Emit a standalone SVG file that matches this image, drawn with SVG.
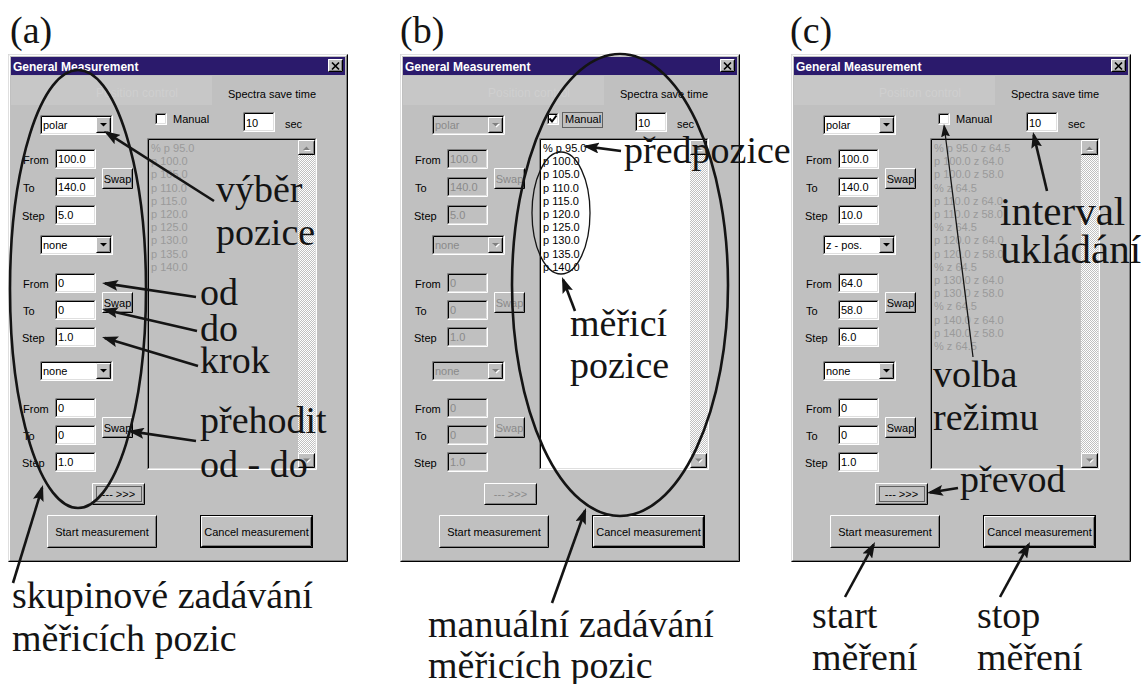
<svg xmlns="http://www.w3.org/2000/svg" width="1145" height="684" viewBox="0 0 1145 684">
<style>
.ui{font-family:"Liberation Sans",Arial,sans-serif;font-size:11px;fill:#000}
.ttl{font-family:"Liberation Sans",Arial,sans-serif;font-size:12px;font-weight:bold;fill:#fff}
.fnt{font-family:"Liberation Sans",Arial,sans-serif;font-size:12px;fill:#cfcfcf}
.mid{text-anchor:middle}
.gry{fill:#9a9a9a}
.dis{fill:#8a8a8a}
.ann{font-family:"Liberation Serif","Times New Roman",serif;font-size:38px;fill:#141414}
.arr{stroke:#141414;stroke-width:2.6;fill:none;marker-end:url(#ah)}
.thin{stroke:#141414;stroke-width:1.3;fill:none;marker-end:url(#ah2)}
.ell{stroke:#141414;stroke-width:2.6;fill:none}
.ell2{stroke:#141414;stroke-width:1.3;fill:none}
.hl{stroke:#fff;fill:none}
.lt{stroke:#dfdfdf;fill:none}
.sh{stroke:#808080;fill:none}
.dk{stroke:#000;fill:none}
.face{fill:#c0c0c0}
.focus{fill:none;stroke:#000;stroke-dasharray:1 1}
</style>
<defs>
<pattern id="dith" width="2" height="2" patternUnits="userSpaceOnUse"><rect width="2" height="2" fill="#c0c0c0"/><rect width="1" height="1" fill="#fff"/><rect x="1" y="1" width="1" height="1" fill="#fff"/></pattern>
<marker id="ah" viewBox="0 0 16 11" markerWidth="16" markerHeight="11" refX="13" refY="5.5" orient="auto" markerUnits="userSpaceOnUse"><path d="M0 0L16 5.5L0 11L3 5.5Z" fill="#141414"/></marker>
<marker id="ah2" viewBox="0 0 13 9" markerWidth="13" markerHeight="9" refX="11" refY="4.5" orient="auto" markerUnits="userSpaceOnUse"><path d="M0 0L13 4.5L0 9L2 4.5Z" fill="#141414"/></marker>
<g id="tbf"><path class="sh" d="M0.5 19.5V0.5H40.5"/><path class="dk" d="M1.5 18.5V1.5H39.5"/><path class="hl" d="M0.5 19.5H40.5V0.5"/><path class="lt" d="M1.5 18.5H39.5V1.5"/></g>
<g id="tb"><rect width="41" height="20" fill="#fff"/><use href="#tbf"/></g>
<g id="tbd"><rect width="41" height="20" fill="#c0c0c0"/><use href="#tbf"/></g>
<g id="b15x16"><rect width="15" height="16" class="face"/><path class="hl" d="M0.5 15.5V0.5H14.5"/><path class="dk" d="M0.5 15.5H14.5V0.5"/><path class="sh" d="M1.5 14.5H13.5V1.5"/></g>
<g id="ddf"><path class="sh" d="M0.5 19.5V0.5H72.5"/><path class="dk" d="M1.5 18.5V1.5H71.5"/><path class="hl" d="M0.5 19.5H72.5V0.5"/><path class="lt" d="M1.5 18.5H71.5V1.5"/></g>
<g id="dd"><rect width="73" height="20" fill="#fff"/><use href="#ddf"/><use href="#b15x16" x="56" y="2"/><path d="M60 8H67L63.5 11.5Z" fill="#000"/></g>
<g id="ddd"><rect width="73" height="20" fill="#c0c0c0"/><use href="#ddf"/><use href="#b15x16" x="56" y="2"/><path d="M61 9H68L64.5 12.5Z" fill="#fff"/><path d="M60 8H67L63.5 11.5Z" fill="#808080"/></g>
<g id="sw"><rect width="31" height="21" class="face"/><path class="hl" d="M0.5 20.5V0.5H30.5"/><path class="dk" d="M0.5 20.5H30.5V0.5"/><path class="sh" d="M1.5 19.5H29.5V1.5"/></g>
<g id="b53"><rect width="53" height="22" class="face"/><path class="hl" d="M0.5 21.5V0.5H52.5"/><path class="dk" d="M0.5 21.5H52.5V0.5"/><path class="sh" d="M1.5 20.5H51.5V1.5"/></g>
<g id="b15x13"><rect width="15" height="13" class="face"/><path class="hl" d="M0.5 12.5V0.5H14.5"/><path class="dk" d="M0.5 12.5H14.5V0.5"/><path class="sh" d="M1.5 11.5H13.5V1.5"/></g>
<g id="b17x15"><rect width="17" height="15" class="face"/><path class="hl" d="M0.5 14.5V0.5H16.5"/><path class="dk" d="M0.5 14.5H16.5V0.5"/><path class="sh" d="M1.5 13.5H15.5V1.5"/></g>
<g id="dlg">
<rect x="0" y="54" width="340" height="508" class="face"/>
<path class="lt" d="M0.5 561.5V54.5H339.5"/><path class="hl" d="M1.5 560.5V55.5H338.5"/>
<path class="dk" d="M0.5 561.5H339.5V54.5"/><path class="sh" d="M1.5 560.5H338.5V55.5"/>
<rect x="3" y="57" width="334" height="18" fill="#2b1a6c"/>
<use href="#b15x13" x="320" y="59"/>
<path d="M324 62.5L331 69.5M331 62.5L324 69.5" stroke="#000" stroke-width="1.7"/>
<rect x="3" y="76" width="201" height="29" fill="#c7c7c7"/>
<rect x="147" y="113" width="12" height="12" fill="#fff"/>
<path class="sh" d="M147.5 124.5V113.5H158.5"/><path class="dk" d="M148.5 123.5V114.5H157.5"/><path class="hl" d="M147.5 124.5H158.5V113.5"/><path class="lt" d="M148.5 123.5H157.5V114.5"/>
<rect x="235" y="112" width="32" height="20" fill="#fff"/>
<path class="sh" d="M235.5 131.5V112.5H266.5"/><path class="dk" d="M236.5 130.5V113.5H265.5"/><path class="hl" d="M235.5 131.5H266.5V112.5"/><path class="lt" d="M236.5 130.5H265.5V113.5"/>
<rect x="139" y="138" width="170" height="332" class="face"/>
<rect x="290" y="140" width="17" height="328" fill="url(#dith)"/>
<path class="sh" d="M139.5 469.5V138.5H308.5"/><path class="dk" d="M140.5 468.5V139.5H307.5"/><path class="hl" d="M139.5 469.5H308.5V138.5"/><path class="lt" d="M140.5 468.5H307.5V139.5"/>
<use href="#b17x15" x="290" y="140"/>
<path d="M296 151H303L299.5 147.5Z" fill="#fff"/><path d="M295 150H302L298.5 146.5Z" fill="#808080"/>
<use href="#b17x15" x="290" y="453"/>
<path d="M296 459.5H303L299.5 463Z" fill="#fff"/><path d="M295 458.5H302L298.5 462Z" fill="#808080"/>
<rect x="39" y="515" width="110" height="33" class="face"/><path class="hl" d="M39.5 547.5V515.5H148.5"/><path class="dk" d="M39.5 547.5H148.5V515.5"/><path class="sh" d="M40.5 546.5H147.5V516.5"/>
<rect x="192" y="515" width="113" height="33" class="face"/><rect x="192.5" y="515.5" width="112" height="32" class="dk"/><path class="hl" d="M193.5 546.5V516.5H303.5"/><path class="dk" d="M193.5 546.5H303.5V516.5"/><path class="sh" d="M194.5 545.5H302.5V517.5"/>
</g>
</defs>
<rect width="1145" height="684" fill="#fff"/>

<g id="panel-a" transform="translate(8,0)">
<use href="#dlg"/>
<text class="ttl" x="5" y="71">General Measurement</text>
<text class="fnt mid" x="129" y="97">Position control</text>
<text class="ui" x="220" y="98">Spectra save time</text>
<text class="ui" x="165" y="123">Manual</text>
<text class="ui" x="238" y="127">10</text>
<text class="ui" x="277" y="128">sec</text>
<use href="#dd" x="32" y="115"/><text class="ui" x="35" y="129">polar</text>
<text class="ui" x="15" y="164">From</text><text class="ui" x="15" y="192">To</text><text class="ui" x="14" y="220">Step</text>
<use href="#tb" x="47" y="149"/><text class="ui" x="50" y="163">100.0</text>
<use href="#tb" x="47" y="177"/><text class="ui" x="50" y="191">140.0</text>
<use href="#tb" x="47" y="205"/><text class="ui" x="50" y="219">5.0</text>
<use href="#sw" x="94" y="168"/><text class="ui mid" x="109.5" y="183">Swap</text>
<use href="#dd" x="32" y="235"/><text class="ui" x="35" y="249">none</text>
<text class="ui" x="15" y="288">From</text><text class="ui" x="15" y="315">To</text><text class="ui" x="14" y="342">Step</text>
<use href="#tb" x="47" y="273"/><text class="ui" x="50" y="287">0</text>
<use href="#tb" x="47" y="300"/><text class="ui" x="50" y="314">0</text>
<use href="#tb" x="47" y="327"/><text class="ui" x="50" y="341">1.0</text>
<use href="#sw" x="94" y="292"/><text class="ui mid" x="109.5" y="307">Swap</text>
<use href="#dd" x="32" y="361"/><text class="ui" x="35" y="375">none</text>
<text class="ui" x="15" y="413">From</text><text class="ui" x="15" y="440">To</text><text class="ui" x="14" y="467">Step</text>
<use href="#tb" x="47" y="398"/><text class="ui" x="50" y="412">0</text>
<use href="#tb" x="47" y="425"/><text class="ui" x="50" y="439">0</text>
<use href="#tb" x="47" y="452"/><text class="ui" x="50" y="466">1.0</text>
<use href="#sw" x="94" y="417"/><text class="ui mid" x="109.5" y="432">Swap</text>
<use href="#b53" x="84" y="483"/><rect class="focus" x="88.5" y="486.5" width="45" height="15"/><text class="ui mid" x="110.5" y="498">--- &gt;&gt;&gt;</text>
<text class="ui gry"><tspan x="143" y="152">% p 95.0</tspan><tspan x="143" dy="13.2">p 100.0</tspan><tspan x="143" dy="13.2">p 105.0</tspan><tspan x="143" dy="13.2">p 110.0</tspan><tspan x="143" dy="13.2">p 115.0</tspan><tspan x="143" dy="13.2">p 120.0</tspan><tspan x="143" dy="13.2">p 125.0</tspan><tspan x="143" dy="13.2">p 130.0</tspan><tspan x="143" dy="13.2">p 135.0</tspan><tspan x="143" dy="13.2">p 140.0</tspan></text>
<text class="ui mid" x="94" y="536">Start measurement</text>
<text class="ui mid" x="248.5" y="536">Cancel measurement</text>
</g>

<g id="panel-b" transform="translate(400,0)">
<use href="#dlg"/>
<rect x="141" y="140" width="149" height="328" fill="#fff"/>
<text class="ttl" x="5" y="71">General Measurement</text>
<text class="fnt mid" x="129" y="97">Position control</text>
<text class="ui" x="220" y="98">Spectra save time</text>
<path d="M149.5 118.5L152 121.5L156.5 115.5" stroke="#000" stroke-width="2" fill="none"/>
<rect class="focus" x="162.5" y="112.5" width="40" height="15"/>
<text class="ui" x="165" y="123">Manual</text>
<text class="ui" x="238" y="127">10</text>
<text class="ui" x="277" y="128">sec</text>
<use href="#ddd" x="32" y="115"/><text class="ui dis" x="35" y="129">polar</text>
<text class="ui" x="15" y="164">From</text><text class="ui" x="15" y="192">To</text><text class="ui" x="14" y="220">Step</text>
<use href="#tbd" x="47" y="149"/><text class="ui dis" x="50" y="163">100.0</text>
<use href="#tbd" x="47" y="177"/><text class="ui dis" x="50" y="191">140.0</text>
<use href="#tbd" x="47" y="205"/><text class="ui dis" x="50" y="219">5.0</text>
<use href="#sw" x="94" y="168"/><text class="ui mid dis" x="109.5" y="183">Swap</text>
<use href="#ddd" x="32" y="235"/><text class="ui dis" x="35" y="249">none</text>
<text class="ui" x="15" y="288">From</text><text class="ui" x="15" y="315">To</text><text class="ui" x="14" y="342">Step</text>
<use href="#tbd" x="47" y="273"/><text class="ui dis" x="50" y="287">0</text>
<use href="#tbd" x="47" y="300"/><text class="ui dis" x="50" y="314">0</text>
<use href="#tbd" x="47" y="327"/><text class="ui dis" x="50" y="341">1.0</text>
<use href="#sw" x="94" y="292"/><text class="ui mid dis" x="109.5" y="307">Swap</text>
<use href="#ddd" x="32" y="361"/><text class="ui dis" x="35" y="375">none</text>
<text class="ui" x="15" y="413">From</text><text class="ui" x="15" y="440">To</text><text class="ui" x="14" y="467">Step</text>
<use href="#tbd" x="47" y="398"/><text class="ui dis" x="50" y="412">0</text>
<use href="#tbd" x="47" y="425"/><text class="ui dis" x="50" y="439">0</text>
<use href="#tbd" x="47" y="452"/><text class="ui dis" x="50" y="466">1.0</text>
<use href="#sw" x="94" y="417"/><text class="ui mid dis" x="109.5" y="432">Swap</text>
<use href="#b53" x="84" y="483"/><text class="ui mid dis" x="110.5" y="498">--- &gt;&gt;&gt;</text>
<text class="ui"><tspan x="143" y="152">% p 95.0</tspan><tspan x="143" dy="13.2">p 100.0</tspan><tspan x="143" dy="13.2">p 105.0</tspan><tspan x="143" dy="13.2">p 110.0</tspan><tspan x="143" dy="13.2">p 115.0</tspan><tspan x="143" dy="13.2">p 120.0</tspan><tspan x="143" dy="13.2">p 125.0</tspan><tspan x="143" dy="13.2">p 130.0</tspan><tspan x="143" dy="13.2">p 135.0</tspan><tspan x="143" dy="13.2">p 140.0</tspan></text>
<text class="ui mid" x="94" y="536">Start measurement</text>
<text class="ui mid" x="248.5" y="536">Cancel measurement</text>
</g>

<g id="panel-c" transform="translate(791,0)">
<use href="#dlg"/>
<text class="ttl" x="5" y="71">General Measurement</text>
<text class="fnt mid" x="129" y="97">Position control</text>
<text class="ui" x="220" y="98">Spectra save time</text>
<text class="ui" x="165" y="123">Manual</text>
<text class="ui" x="238" y="127">10</text>
<text class="ui" x="277" y="128">sec</text>
<use href="#dd" x="32" y="115"/><text class="ui" x="35" y="129">polar</text>
<text class="ui" x="15" y="164">From</text><text class="ui" x="15" y="192">To</text><text class="ui" x="14" y="220">Step</text>
<use href="#tb" x="47" y="149"/><text class="ui" x="50" y="163">100.0</text>
<use href="#tb" x="47" y="177"/><text class="ui" x="50" y="191">140.0</text>
<use href="#tb" x="47" y="205"/><text class="ui" x="50" y="219">10.0</text>
<use href="#sw" x="94" y="168"/><text class="ui mid" x="109.5" y="183">Swap</text>
<use href="#dd" x="32" y="235"/><text class="ui" x="35" y="249">z - pos.</text>
<text class="ui" x="15" y="288">From</text><text class="ui" x="15" y="315">To</text><text class="ui" x="14" y="342">Step</text>
<use href="#tb" x="47" y="273"/><text class="ui" x="50" y="287">64.0</text>
<use href="#tb" x="47" y="300"/><text class="ui" x="50" y="314">58.0</text>
<use href="#tb" x="47" y="327"/><text class="ui" x="50" y="341">6.0</text>
<use href="#sw" x="94" y="292"/><text class="ui mid" x="109.5" y="307">Swap</text>
<use href="#dd" x="32" y="361"/><text class="ui" x="35" y="375">none</text>
<text class="ui" x="15" y="413">From</text><text class="ui" x="15" y="440">To</text><text class="ui" x="14" y="467">Step</text>
<use href="#tb" x="47" y="398"/><text class="ui" x="50" y="412">0</text>
<use href="#tb" x="47" y="425"/><text class="ui" x="50" y="439">0</text>
<use href="#tb" x="47" y="452"/><text class="ui" x="50" y="466">1.0</text>
<use href="#sw" x="94" y="417"/><text class="ui mid" x="109.5" y="432">Swap</text>
<use href="#b53" x="84" y="483"/><rect class="focus" x="88.5" y="486.5" width="45" height="15"/><text class="ui mid" x="110.5" y="498">--- &gt;&gt;&gt;</text>
<text class="ui gry"><tspan x="143" y="152">% p 95.0 z 64.5</tspan><tspan x="143" dy="13.2">p 100.0 z 64.0</tspan><tspan x="143" dy="13.2">p 100.0 z 58.0</tspan><tspan x="143" dy="13.2">% z 64.5</tspan><tspan x="143" dy="13.2">p 110.0 z 64.0</tspan><tspan x="143" dy="13.2">p 110.0 z 58.0</tspan><tspan x="143" dy="13.2">% z 64.5</tspan><tspan x="143" dy="13.2">p 120.0 z 64.0</tspan><tspan x="143" dy="13.2">p 120.0 z 58.0</tspan><tspan x="143" dy="13.2">% z 64.5</tspan><tspan x="143" dy="13.2">p 130.0 z 64.0</tspan><tspan x="143" dy="13.2">p 130.0 z 58.0</tspan><tspan x="143" dy="13.2">% z 64.5</tspan><tspan x="143" dy="13.2">p 140.0 z 64.0</tspan><tspan x="143" dy="13.2">p 140.0 z 58.0</tspan><tspan x="143" dy="13.2">% z 64.5</tspan></text>
<text class="ui mid" x="94" y="536">Start measurement</text>
<text class="ui mid" x="248.5" y="536">Cancel measurement</text>
</g>

<g id="highlights">
<ellipse class="ell" cx="78" cy="289" rx="68" ry="219"/>
<ellipse class="ell" cx="620" cy="285" rx="108" ry="231"/>
<ellipse class="ell2" cx="561" cy="213" rx="29" ry="61"/>
</g>

<g id="connectors">
<path class="arr" d="M214 201L106.5 132.6"/>
<path class="arr" d="M196 297L105 283.4"/>
<path class="arr" d="M197 331L104.9 309.7"/>
<path class="arr" d="M198 366L104.9 337.9"/>
<path class="arr" d="M196 441L131 431.4"/>
<path class="arr" d="M13 583L42.1 487.9"/>
<path class="arr" d="M621 151L586 146.4"/>
<path class="arr" d="M575 311L563.1 279.8"/>
<path class="arr" d="M552 603L585 510.8"/>
<path class="arr" d="M1047 191L1033.7 134.9"/>
<path class="thin" d="M973 357L944.2 126"/>
<path class="arr" d="M958 488L930 492.5"/>
<path class="arr" d="M845 597L873.6 544.6"/>
<path class="arr" d="M1000 597L1028.6 544.6"/>
</g>

<g id="lbl-a"><text class="ann" x="10" y="43">(a)</text></g>
<g id="lbl-b"><text class="ann" x="400" y="43">(b)</text></g>
<g id="lbl-c"><text class="ann" x="790" y="43">(c)</text></g>
<g id="lbl-vyber"><text class="ann" x="216" y="202">výběr</text><text class="ann" x="216" y="245">pozice</text></g>
<g id="lbl-od"><text class="ann" x="200" y="305">od</text></g>
<g id="lbl-do"><text class="ann" x="200" y="341">do</text></g>
<g id="lbl-krok"><text class="ann" x="200" y="373">krok</text></g>
<g id="lbl-prehodit"><text class="ann" x="200" y="433">přehodit</text><text class="ann" x="200" y="477">od - do</text></g>
<g id="lbl-skupinove"><text class="ann" x="12" y="608">skupinové zadávání</text><text class="ann" x="12" y="651">měřicích pozic</text></g>
<g id="lbl-predpozice"><text class="ann" x="624" y="163">předpozice</text></g>
<g id="lbl-merici"><text class="ann" x="570" y="336">měřicí</text><text class="ann" x="570" y="378">pozice</text></g>
<g id="lbl-manualni"><text class="ann" x="428" y="637">manuální zadávání</text><text class="ann" x="428" y="678">měřicích pozic</text></g>
<g id="lbl-interval"><text class="ann" x="1000" y="225" style="font-size:41px">interval</text><text class="ann" x="1000" y="263" style="font-size:41px">ukládání</text></g>
<g id="lbl-volba"><text class="ann" x="933" y="387">volba</text><text class="ann" x="933" y="430">režimu</text></g>
<g id="lbl-prevod"><text class="ann" x="960" y="492">převod</text></g>
<g id="lbl-start"><text class="ann" x="812" y="628">start</text><text class="ann" x="812" y="670">měření</text></g>
<g id="lbl-stop"><text class="ann" x="977" y="628">stop</text><text class="ann" x="977" y="670">měření</text></g>
</svg>
